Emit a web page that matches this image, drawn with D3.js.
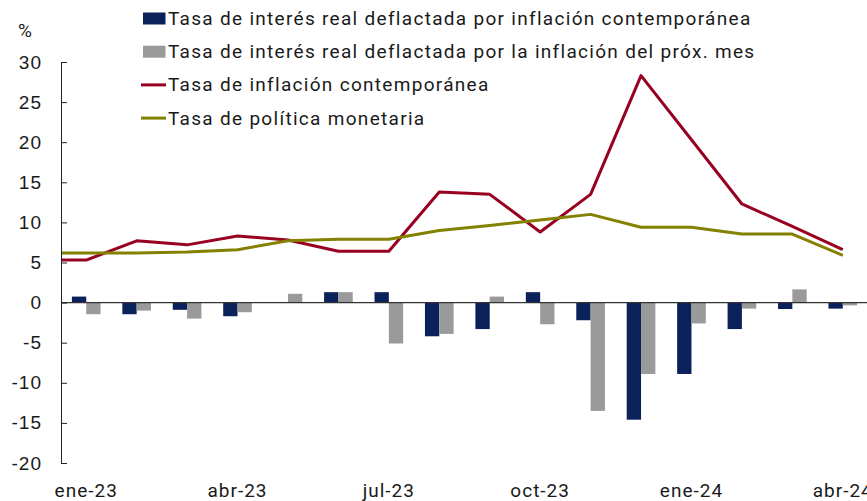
<!DOCTYPE html>
<html>
<head>
<meta charset="utf-8">
<script src="https://cdn.jsdelivr.net/npm/d3@7"></script>
<style>
    body { margin: 0; background: #fff; }
    svg { display: block; font-family: Roboto, "Noto Sans", sans-serif; }
    .axis-label { fill: #1a1a1a; font-size: 19px; letter-spacing: 1px; }
    .legend text { fill: #1a1a1a; font-size: 19px; letter-spacing: 1.3px; }
</style>
</head>
<body>
<div id="chart-area"><svg></svg></div>
<script>
// months on the category axis (bars), the lines also carry the point before ene-23
const months = ["ene-23", "feb-23", "mar-23", "abr-23", "may-23", "jun-23", "jul-23", "ago-23",
    "sep-23", "oct-23", "nov-23", "dic-23", "ene-24", "feb-24", "mar-24", "abr-24"];
const lineMonths = ["dic-22", ...months];

const realContemp = [0.75, -1.45, -0.9, -1.7, -0.05, 1.3, 1.3, -4.2, -3.3, 1.3, -2.2, -14.6, -8.9, -3.3, -0.8, -0.75];
const realNextMonth = [-1.45, -1.0, -2.0, -1.2, 1.1, 1.3, -5.1, -3.9, 0.75, -2.7, -13.5, -8.9, -2.6, -0.75, 1.65, -0.35];
const inflation = [5.3, 5.3, 7.7, 7.2, 8.3, 7.8, 6.4, 6.4, 13.8, 13.5, 8.8, 13.5, 28.3, 20.3, 12.3, 9.5, 6.6];
const policyRate = [6.2, 6.2, 6.2, 6.3, 6.6, 7.7, 7.9, 7.9, 9.0, 9.6, 10.3, 11.0, 9.4, 9.4, 8.55, 8.55, 5.9];

const yTicks = [30, 25, 20, 15, 10, 5, 0, -5, -10, -15, -20];
const xTickLabels = ["ene-23", "abr-23", "jul-23", "oct-23", "ene-24", "abr-24"];

const legendItems = [
    { label: "Tasa de interés real deflactada por inflación contemporánea", color: "#0b2159", type: "bar" },
    { label: "Tasa de interés real deflactada por la inflación del próx. mes", color: "#9a9a9a", type: "bar" },
    { label: "Tasa de inflación contemporánea", color: "#980021", type: "line" },
    { label: "Tasa de política monetaria", color: "#848000", type: "line" }
];

const chartSize = { width: 867, height: 501 };
const plot = { left: 61, right: 868, top: 62, bottom: 463 };

const svg = d3.select("#chart-area svg")
    .attr("width", chartSize.width)
    .attr("height", chartSize.height);

// index scale: -0.5 .. 15.5 spans the plot area, month i sits at i
const x = d3.scaleLinear()
    .domain([-0.5, months.length - 0.5])
    .range([plot.left, plot.right]);
const step = x(1) - x(0);
const barW = step * 0.284;

const y = d3.scaleLinear()
    .domain([-20, 30])
    .range([plot.bottom, plot.top]);

svg.append("defs").append("clipPath")
    .attr("id", "plot-clip")
    .append("rect")
    .attr("x", plot.left)
    .attr("y", 0)
    .attr("width", plot.right - plot.left)
    .attr("height", chartSize.height);

// bars
const bars = svg.append("g").attr("class", "bars");
bars.selectAll(".b1")
    .data(realContemp)
    .enter().append("rect")
    .attr("class", "b1")
    .attr("x", (d, i) => x(i) - barW)
    .attr("width", barW)
    .attr("y", d => y(Math.max(d, 0)))
    .attr("height", d => Math.abs(y(d) - y(0)))
    .attr("fill", legendItems[0].color);

bars.selectAll(".b2")
    .data(realNextMonth)
    .enter().append("rect")
    .attr("class", "b2")
    .attr("x", (d, i) => x(i))
    .attr("width", barW)
    .attr("y", d => y(Math.max(d, 0)))
    .attr("height", d => Math.abs(y(d) - y(0)))
    .attr("fill", legendItems[1].color);

// zero line
svg.append("line")
    .attr("x1", plot.left)
    .attr("x2", chartSize.width)
    .attr("y1", y(0))
    .attr("y2", y(0))
    .attr("stroke", "#333")
    .attr("stroke-width", 1.3);

// lines
const line = d3.line()
    .x((d, i) => x(i - 1))
    .y(d => y(d));

const lines = svg.append("g").attr("clip-path", "url(#plot-clip)");
[inflation, policyRate].forEach((series, k) => {
    lines.append("path")
        .attr("d", line(series))
        .attr("fill", "none")
        .attr("stroke", legendItems[k + 2].color)
        .attr("stroke-width", 3)
        .attr("stroke-linejoin", "round");
});

// y axis, ticks point into the plot
const yAxis = d3.axisLeft(y)
    .tickValues(yTicks)
    .tickFormat(d => String(d))
    .tickSizeInner(-6)
    .tickSizeOuter(0)
    .tickPadding(19);

svg.append("g")
    .attr("class", "y-axis")
    .attr("transform", `translate(${plot.left},0)`)
    .call(yAxis)
    .call(g => g.selectAll("text").attr("class", "axis-label").attr("fill", null))
    .call(g => g.selectAll("line, path").attr("stroke", "#222"));

svg.append("text")
    .attr("class", "axis-label")
    .attr("x", 18)
    .attr("y", 37)
    .text("%");

// x labels every 3 months
svg.append("g")
    .selectAll("text")
    .data(xTickLabels)
    .enter().append("text")
    .attr("class", "axis-label")
    .attr("x", d => x(months.indexOf(d)))
    .attr("y", 497)
    .attr("text-anchor", "middle")
    .text(d => d);

// legend
const legend = svg.append("g").attr("class", "legend");
const rows = legend.selectAll("g")
    .data(legendItems)
    .enter().append("g")
    .attr("transform", (d, i) => `translate(0,${18.5 + 33.2 * i})`);

rows.filter(d => d.type === "bar").append("rect")
    .attr("x", 143)
    .attr("y", -6)
    .attr("width", 22.5)
    .attr("height", 12)
    .attr("fill", d => d.color);

rows.filter(d => d.type === "line").append("line")
    .attr("x1", 141)
    .attr("x2", 166)
    .attr("stroke", d => d.color)
    .attr("stroke-width", 3);

rows.append("text")
    .attr("x", 168)
    .attr("y", 6.5)
    .text(d => d.label);
</script>
</body>
</html>
